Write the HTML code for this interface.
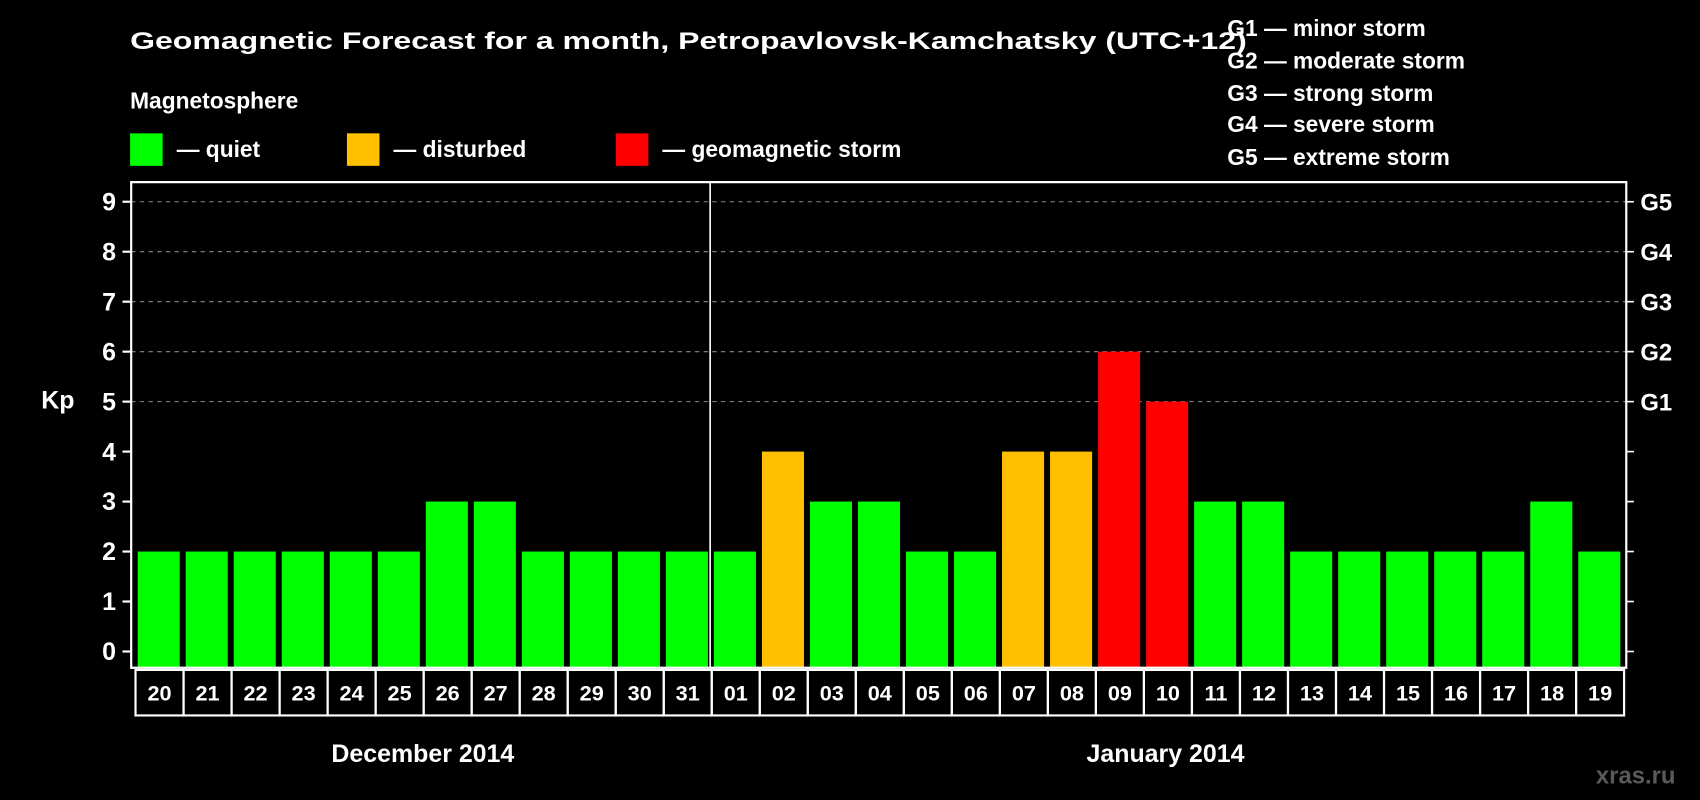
<!DOCTYPE html>
<html><head><meta charset="utf-8"><style>
html,body{margin:0;padding:0;background:#000;width:1700px;height:800px;overflow:hidden}
svg{display:block}
text{font-family:"Liberation Sans",sans-serif;font-weight:bold;fill:#fff}
</style></head><body>
<svg id="chart" width="1700" height="800" viewBox="0 0 1568 738" preserveAspectRatio="none" xmlns="http://www.w3.org/2000/svg">
<rect x="0" y="0" width="1568" height="738" fill="#000"/>
<text x="120" y="45" font-size="22" textLength="1030" lengthAdjust="spacingAndGlyphs">Geomagnetic Forecast for a month, Petropavlovsk-Kamchatsky (UTC+12)</text>
<text x="120" y="100" font-size="21">Magnetosphere</text>
<g><rect x="120" y="123" width="30" height="30" fill="#00ff00"/><text x="163" y="145" font-size="21">— quiet</text></g>
<g><rect x="320" y="123" width="30" height="30" fill="#ffc000"/><text x="363" y="145" font-size="21">— disturbed</text></g>
<g><rect x="568" y="123" width="30" height="30" fill="#ff0000"/><text x="611" y="145" font-size="21">— geomagnetic storm</text></g>
<g font-size="21">
<text x="1132" y="33">G1 — minor storm</text>
<text x="1132" y="63">G2 — moderate storm</text>
<text x="1132" y="93">G3 — strong storm</text>
<text x="1132" y="122">G4 — severe storm</text>
<text x="1132" y="152">G5 — extreme storm</text>
</g>
<text x="38" y="377" font-size="23">Kp</text>
<g id="grid"></g>
<g id="bars"></g>
<g id="axes"></g>
<g id="dates"></g>
<text x="390" y="703" font-size="23" text-anchor="middle">December 2014</text>
<text x="1075" y="703" font-size="23" text-anchor="middle">January 2014</text>
<text x="1472" y="723" font-size="22" style="fill:#5a5a5a">xras.ru</text>
</svg>
<script>
const days = ["20","21","22","23","24","25","26","27","28","29","30","31","01","02","03","04","05","06","07","08","09","10","11","12","13","14","15","16","17","18","19"];
const kpValues = [2,2,2,2,2,2,3,3,2,2,2,2,2,4,3,3,2,2,4,4,6,5,3,3,2,2,2,2,2,3,2];
const yTicks = [0,1,2,3,4,5,6,7,8,9];
const gLabels = ["G1","G2","G3","G4","G5"];
const gLevels = [5,6,7,8,9];

const NS="http://www.w3.org/2000/svg";
const L=121,R=1500,T=168,B=616,x0=124,slot=(1497-124)/days.length;
function y(k){return 601-46.1*k;}
function x(i){return x0+i*slot;}
function el(tag,attrs,parent){const e=document.createElementNS(NS,tag);for(const k in attrs)e.setAttribute(k,attrs[k]);parent.appendChild(e);return e;}
function color(k){return k>=5?"#ff0000":(k>=4?"#ffc000":"#00ff00");}

const grid=document.getElementById('grid');
gLevels.forEach(k=>{
  const g=el('line',{x1:L,x2:R,y1:y(k),y2:y(k),stroke:'#8a8a8a','stroke-width':1,'stroke-dasharray':'4,4'},grid);
  
  
});

const bars=document.getElementById('bars');
kpValues.forEach((v,i)=>{
  const r=el('rect',{x:x(i)+3,y:y(v),width:slot-5.5,height:B-y(v),fill:color(v)},bars);
  
  
});

const axes=document.getElementById('axes');
const frame=el('path',{d:`M${L},${B} L${L},${T} L${R},${T} L${R},${B} Z`,fill:'none',stroke:'#fff','stroke-width':2},axes);


const div=el('line',{x1:655,x2:655,y1:T,y2:B,stroke:'#fff','stroke-width':1.5},axes);


yTicks.forEach(k=>{
  el('line',{x1:113,x2:L,y1:y(k),y2:y(k),stroke:'#fff','stroke-width':2},axes);
  el('line',{x1:R,x2:1507,y1:y(k),y2:y(k),stroke:'#fff','stroke-width':1.5},axes);
  const t=el('text',{x:107,y:y(k)+8,'font-size':23,'text-anchor':'end'},axes);
  t.textContent=k;
  
  
});
gLevels.forEach((k,i)=>{
  const t=el('text',{x:1513,y:y(k)+8,'font-size':22},axes);
  t.textContent=gLabels[i];
  
  
});

const dates=document.getElementById('dates');
days.forEach((d,i)=>{
  const r=el('rect',{x:x(i)+1,y:618,width:slot,height:42,fill:'none',stroke:'#fff','stroke-width':2},dates);
  
  
  const t=el('text',{x:x(i)+1+slot/2,y:646,'font-size':20,'text-anchor':'middle'},dates);
  t.textContent=d;
  
  
});
</script>
</body></html>
